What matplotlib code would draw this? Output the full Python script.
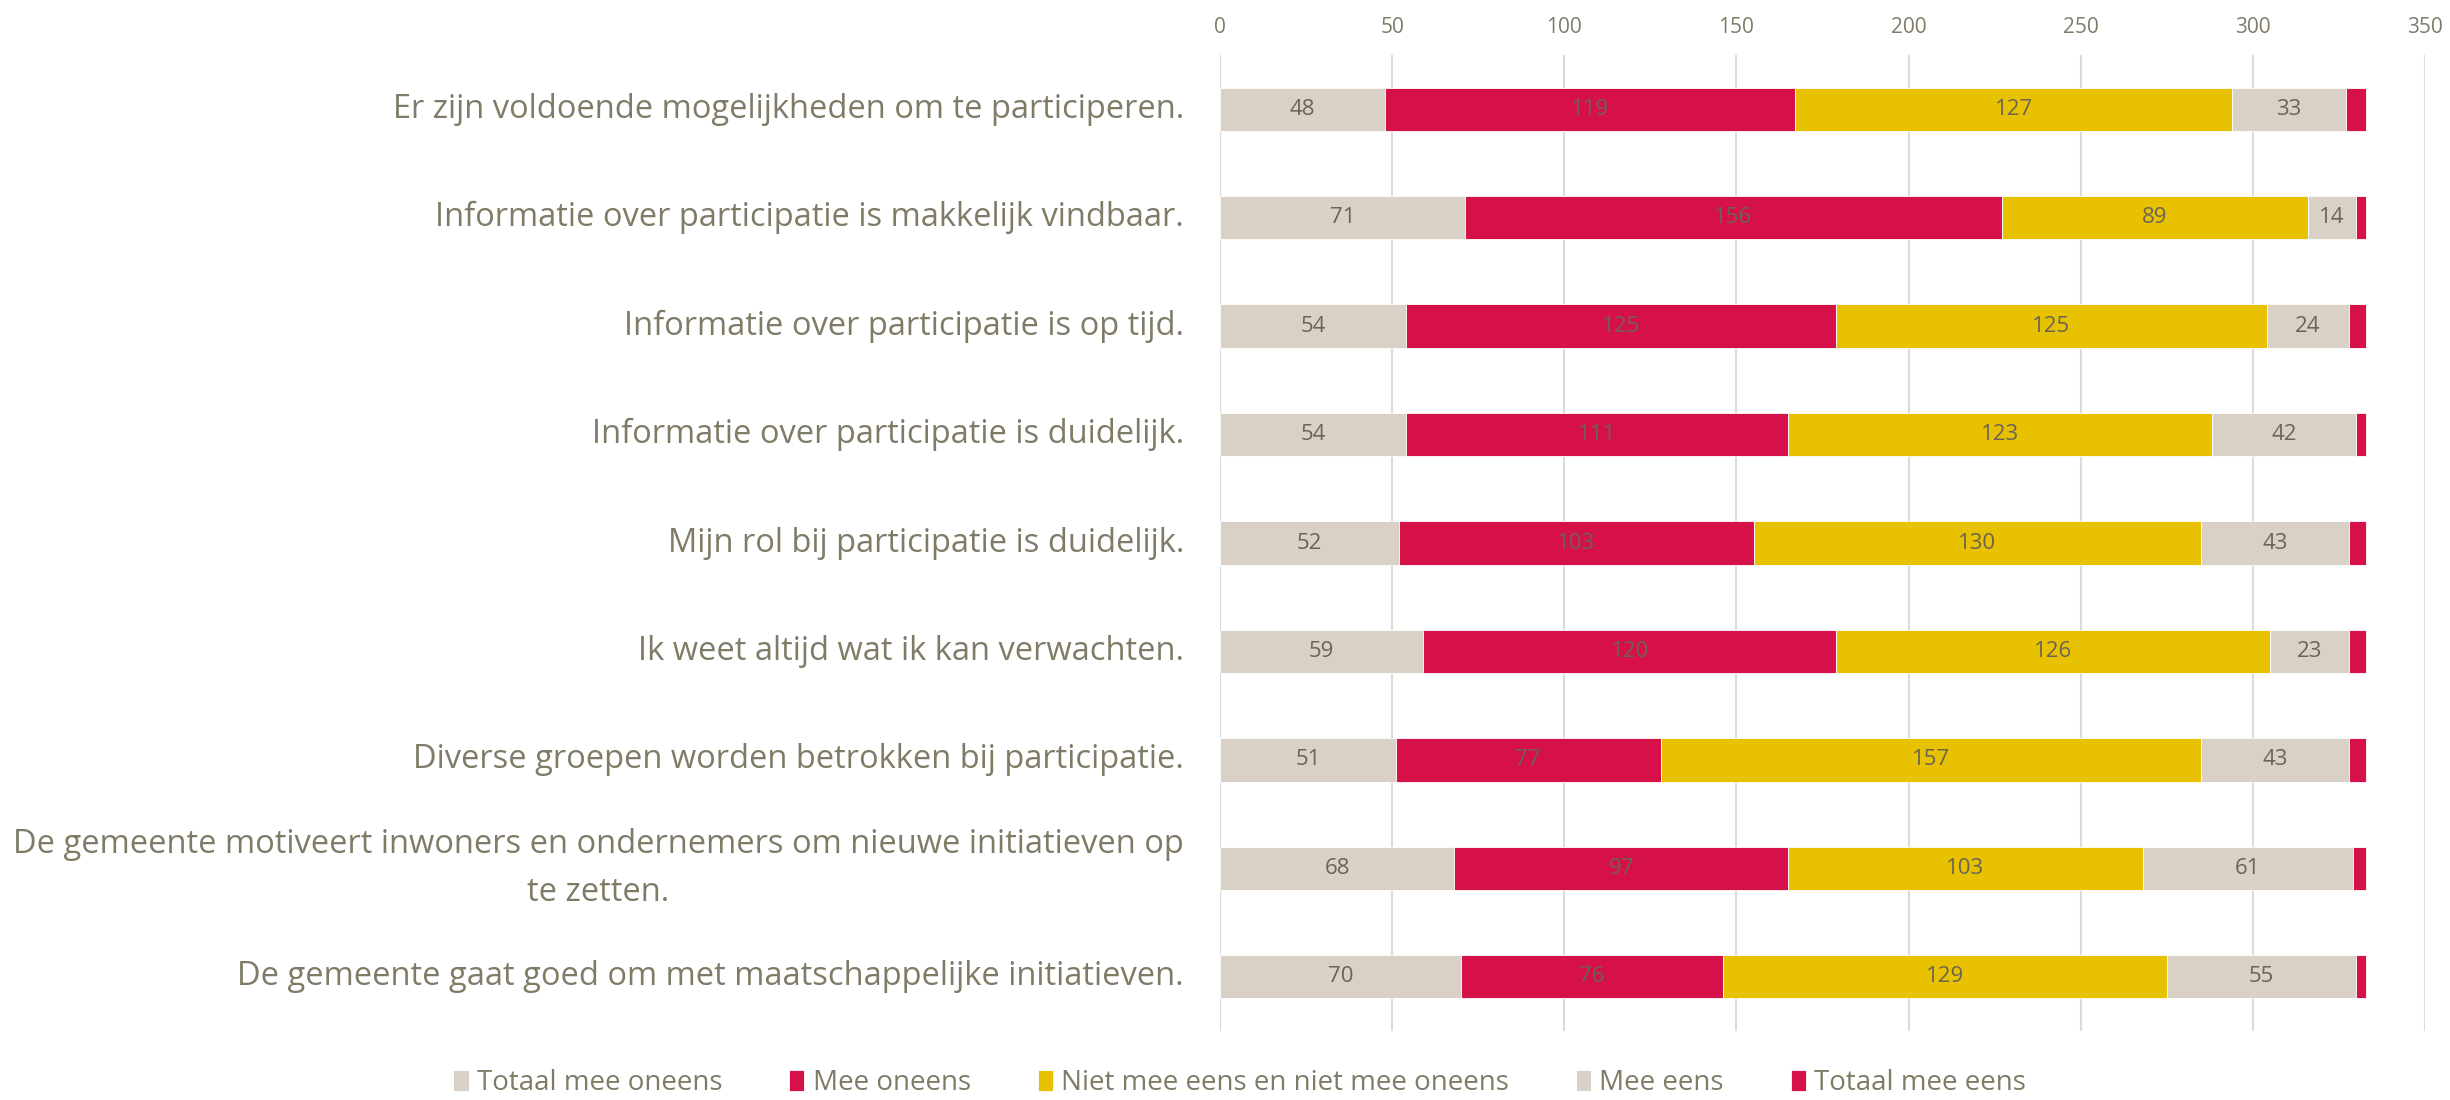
import matplotlib
matplotlib.use("Agg")
import matplotlib.pyplot as plt
import numpy as np

plt.rcParams['font.family'] = ['Open Sans', 'DejaVu Sans']

statements = [
    "Er zijn voldoende mogelijkheden om te participeren.",
    "Informatie over participatie is makkelijk vindbaar.",
    "Informatie over participatie is op tijd.",
    "Informatie over participatie is duidelijk.",
    "Mijn rol bij participatie is duidelijk.",
    "Ik weet altijd wat ik kan verwachten.",
    "Diverse groepen worden betrokken bij participatie.",
    "De gemeente motiveert inwoners en ondernemers om nieuwe initiatieven op\nte zetten.",
    "De gemeente gaat goed om met maatschappelijke initiatieven.",
]

series_names = ["Totaal mee oneens", "Mee oneens",
                "Niet mee eens en niet mee oneens", "Mee eens", "Totaal mee eens"]

totaal_mee_oneens = [48, 71, 54, 54, 52, 59, 51, 68, 70]
mee_oneens = [119, 156, 125, 111, 103, 120, 77, 97, 76]
neutraal = [127, 89, 125, 123, 130, 126, 157, 103, 129]
mee_eens = [33, 14, 24, 42, 43, 23, 43, 61, 55]
totaal_mee_eens = [6, 3, 5, 3, 5, 5, 5, 4, 3]

colors = ["#D9D1C6", "#D61048", "#E8C200", "#D9D1C6", "#D61048"]
show_labels = [True, True, True, True, False]

text_col = "#7F7B66"
val_col = "#6B6455"

fig = plt.figure(figsize=(24.5, 11), dpi=100)
ax = fig.add_axes([0.498, 0.0627, 0.4918, 0.8873])

y = np.arange(len(statements))
left = np.zeros(len(statements))
all_series = [totaal_mee_oneens, mee_oneens, neutraal, mee_eens, totaal_mee_eens]
for vals, name, col, lab in zip(all_series, series_names, colors, show_labels):
    vals = np.array(vals)
    bars = ax.barh(y, vals, left=left, height=0.4, color=col, label=name,
                   edgecolor="white", linewidth=0.6, zorder=2)
    if lab:
        ax.bar_label(bars, labels=[str(v) for v in vals], label_type="center",
                     color=val_col, fontsize=16)
    left += vals

ax.set_xlim(0, 350)
ax.set_ylim(len(statements) - 0.5, -0.5)
ax.set_xticks(np.arange(0, 351, 50))
ax.xaxis.tick_top()
ax.tick_params(axis="x", colors=text_col, labelsize=15, length=0, pad=12)
ax.set_yticks(y)
ax.set_yticklabels(statements, fontsize=23.5, color=text_col, ha="right",
                   linespacing=1.6)
ax.tick_params(axis="y", length=0, pad=26)
for t in ax.get_yticklabels():
    t.set_multialignment("center")
    t.set_verticalalignment("center")
ax.grid(axis="x", color="#DDDBD6", linewidth=1.5, zorder=0)
ax.set_axisbelow(True)
for s in ax.spines.values():
    s.set_visible(False)

leg = fig.legend(loc="lower center", bbox_to_anchor=(0.506, -0.02), ncol=5,
                 frameon=False, fontsize=20, handlelength=0.55, handleheight=0.8,
                 handletextpad=0.3, columnspacing=2.4)
for t in leg.get_texts():
    t.set_color(text_col)

fig.savefig("out.png", dpi=100)
